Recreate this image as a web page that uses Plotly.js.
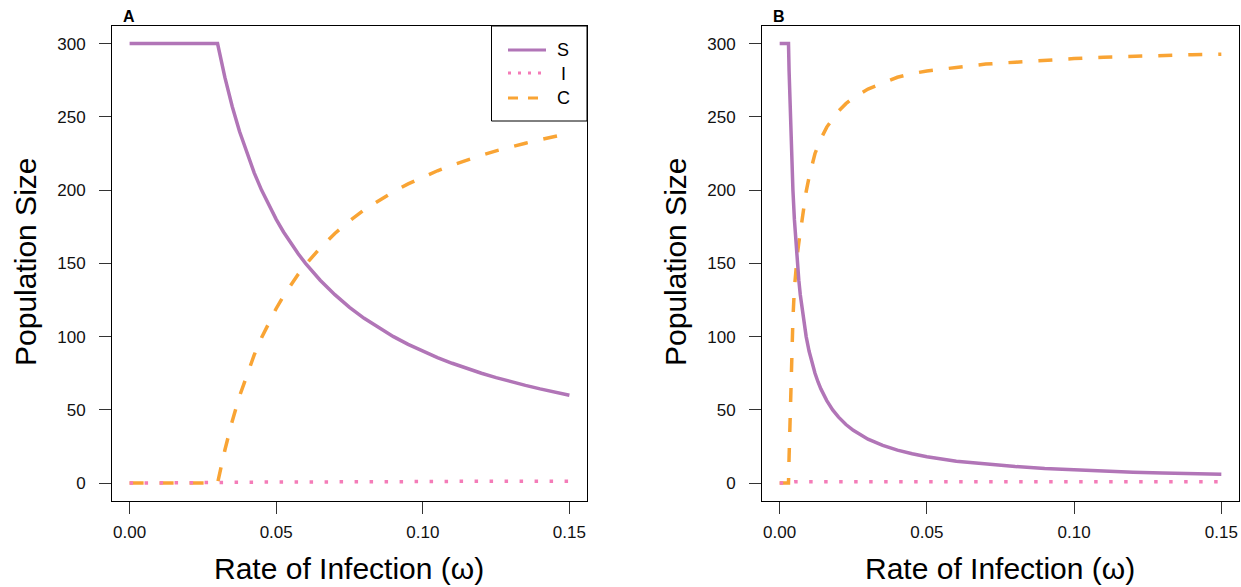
<!DOCTYPE html>
<html>
<head>
<meta charset="utf-8">
<script src="https://cdn.plot.ly/plotly-3.0.1.min.js"></script>
<style>html,body{margin:0;padding:0;background:#fff;}#chart{width:1241px;height:587px;}</style>
</head>
<body>
<div id="chart"></div>
<script>
// ---------- Data ----------
// Panel A
const omegaA = [0, 0.005, 0.01, 0.015, 0.02, 0.025, 0.03, 0.0325, 0.035, 0.0375, 0.04, 0.0425, 0.045, 0.0475, 0.05, 0.0525, 0.055, 0.0575, 0.06, 0.065, 0.07, 0.075, 0.08, 0.085, 0.09, 0.095, 0.10, 0.105, 0.11, 0.115, 0.12, 0.125, 0.13, 0.135, 0.14, 0.145, 0.15];
const S_A    = [300, 300, 300, 300, 300, 300, 300, 276.9, 257.1, 240, 225, 211.8, 200, 189.5, 180, 171.4, 163.6, 156.5, 150, 138.5, 128.6, 120, 112.5, 105.9, 100, 94.7, 90, 85.7, 81.8, 78.3, 75, 72, 69.2, 66.7, 64.3, 62.1, 60];
const I_A    = [0, 0, 0, 0, 0, 0, 0, 0.5, 0.6, 0.6, 0.7, 0.7, 0.8, 0.8, 0.8, 0.9, 0.9, 0.9, 0.9, 1.0, 1.0, 1.0, 1.0, 1.1, 1.1, 1.1, 1.1, 1.1, 1.2, 1.2, 1.2, 1.2, 1.2, 1.3, 1.3, 1.3, 1.3];
const C_A    = [0, 0, 0, 0, 0, 0, 0, 22.6, 42.3, 59.4, 74.3, 87.5, 99.2, 109.7, 119.2, 127.7, 135.5, 142.6, 149.1, 160.5, 170.4, 179, 186.5, 193, 198.9, 204.2, 208.9, 213.2, 217, 220.5, 223.8, 226.8, 229.6, 232, 234.4, 236.6, 238.7];

// Panel B
const omegaB = [0, 0.001, 0.002, 0.003, 0.0032, 0.0035, 0.004, 0.0045, 0.005, 0.0055, 0.006, 0.0065, 0.007, 0.008, 0.009, 0.010, 0.011, 0.012, 0.013, 0.014, 0.016, 0.018, 0.020, 0.0225, 0.025, 0.0275, 0.030, 0.035, 0.040, 0.045, 0.050, 0.060, 0.070, 0.080, 0.090, 0.100, 0.110, 0.120, 0.130, 0.140, 0.150];
const S_B    = [300, 300, 300, 300, 281.3, 257.1, 225, 200, 180, 163.6, 150, 138.5, 128.6, 112.5, 100, 90, 81.8, 75, 69.2, 64.3, 56.3, 50, 45, 40, 36, 32.7, 30, 25.7, 22.5, 20, 18, 15, 12.9, 11.3, 10, 9, 8.2, 7.5, 6.9, 6.4, 6];
const I_B    = [0, 0, 0, 0, 0.6, 0.8, 0.9, 0.9, 1, 1, 1, 1, 1, 1, 1, 1, 1, 1, 1, 1, 1, 1, 1, 1, 1, 1, 1, 1, 1, 1, 1, 1, 1, 1, 1, 1, 1, 1, 1, 1, 1];
const C_B    = [0, 0, 0, 0, 18, 44, 80, 112, 133, 146, 156, 164, 171, 188, 199, 209, 217, 225, 230, 235, 243, 249, 254, 259, 263, 266, 269, 273, 277, 279.5, 281.3, 283.7, 286, 287.3, 288.7, 289.8, 290.7, 291.4, 291.9, 292.4, 292.8];

const seriesNames = ["S", "I", "C"];
const xTicks = [0, 0.05, 0.10, 0.15];
const xTickText = ["0.00", "0.05", "0.10", "0.15"];
const yTicks = [0, 50, 100, 150, 200, 250, 300];
const yTickText = ["0", "50", "100", "150", "200", "250", "300"];
const panelLabels = ["A", "B"];
const xTitle = "Rate of Infection (ω)";
const yTitle = "Population Size";

// ---------- Styles ----------
const W = 1241, H = 587;
const colS = "#B175B7", colI = "#F47CB8", colC = "#F9A434";
const styleS = {color: colS, width: 3.5};
const styleI = {color: colI, width: 3.5, dash: "3.5px,11.5px"};
const styleC = {color: colC, width: 3.5, dash: "14px,16px"};
const FONT = "Liberation Sans, Arial, Helvetica, sans-serif";

const px = x => x / W;
const py = y => 1 - y / H;

function tr(x, y, name, line, xa, ya) {
  return {x: x, y: y, name: name, mode: "lines", line: line, xaxis: xa, yaxis: ya,
          showlegend: false, hoverinfo: "x+y+name"};
}

const data = [
  tr(omegaA, C_A, seriesNames[2], styleC, "x", "y"),
  tr(omegaA, I_A, seriesNames[1], styleI, "x", "y"),
  tr(omegaA, S_A, seriesNames[0], styleS, "x", "y"),
  tr(omegaB, C_B, seriesNames[2], styleC, "x2", "y2"),
  tr(omegaB, I_B, seriesNames[1], styleI, "x2", "y2"),
  tr(omegaB, S_B, seriesNames[0], styleS, "x2", "y2")
];

function xax(domain, anchor) {
  return {domain: domain, anchor: anchor, range: [-0.006, 0.156], tickvals: xTicks, ticktext: xTickText,
          ticks: "outside", ticklen: 12, tickwidth: 1, tickcolor: "#333",
          showline: true, mirror: true, linecolor: "#000", linewidth: 1,
          showgrid: false, zeroline: false, fixedrange: true,
          tickfont: {family: FONT, size: 17, color: "#111"}, ticklabelstandoff: 4};
}
function yax(domain, anchor) {
  return {domain: domain, anchor: anchor, range: [-12, 312], tickvals: yTicks, ticktext: yTickText,
          ticks: "outside", ticklen: 12, tickwidth: 1, tickcolor: "#333",
          showline: true, mirror: true, linecolor: "#000", linewidth: 1,
          showgrid: false, zeroline: false, fixedrange: true,
          tickfont: {family: FONT, size: 17, color: "#111"}, ticklabelstandoff: 10};
}

const yDom = [py(500.7), py(26)];
function ann(text, x, y, size, extra) {
  return Object.assign({text: text, x: px(x), y: py(y), xref: "paper", yref: "paper", showarrow: false,
    font: {family: FONT, size: size, color: "#000"}, xanchor: "center", yanchor: "middle"}, extra || {});
}
const layout = {
  width: W, height: H,
  margin: {l: 0, r: 0, t: 0, b: 0},
  paper_bgcolor: "#fff", plot_bgcolor: "#fff",
  showlegend: false,
  xaxis: xax([px(112), px(587)], "y"),
  yaxis: yax(yDom, "x"),
  xaxis2: xax([px(762), px(1239)], "y2"),
  yaxis2: yax(yDom, "x2"),
  annotations: [
    ann(panelLabels[0], 129, 16, 16, {font: {family: FONT, size: 16, color: "#000", weight: "bold"}}),
    ann(panelLabels[1], 779, 16, 16, {font: {family: FONT, size: 16, color: "#000", weight: "bold"}}),
    ann(xTitle, 349, 568, 30),
    ann(xTitle, 1000, 568, 30),
    ann(yTitle, 25, 262, 30, {textangle: -90}),
    ann(yTitle, 675, 262, 30, {textangle: -90}),
    ann(seriesNames[0], 563, 50, 18),
    ann(seriesNames[1], 563, 74, 18),
    ann(seriesNames[2], 563, 98, 18)
  ],
  shapes: [
    {type: "rect", xref: "paper", yref: "paper", x0: px(491.5), x1: px(587), y0: py(121), y1: py(26),
     line: {color: "#000", width: 1}, fillcolor: "rgba(255,255,255,1)", layer: "above"},
    {type: "line", xref: "paper", yref: "paper", x0: px(508), x1: px(546), y0: py(50), y1: py(50),
     line: {color: colS, width: 3}},
    {type: "line", xref: "paper", yref: "paper", x0: px(508), x1: px(546), y0: py(73), y1: py(73),
     line: {color: colI, width: 3, dash: "3px,7px"}},
    {type: "line", xref: "paper", yref: "paper", x0: px(508), x1: px(546), y0: py(98), y1: py(98),
     line: {color: colC, width: 3, dash: "10px,10px"}}
  ]
};

Plotly.newPlot("chart", data, layout, {displayModeBar: false, staticPlot: true});
</script>
</body>
</html>
